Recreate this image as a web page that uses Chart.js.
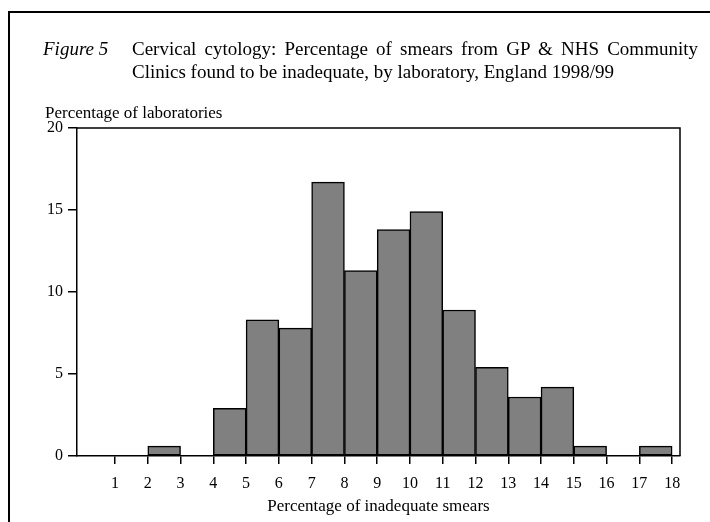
<!DOCTYPE html>
<html>
<head>
<meta charset="utf-8">
<script src="https://cdn.jsdelivr.net/npm/chart.js@4.4.0/dist/chart.umd.min.js"></script>
<style>
  html, body { margin: 0; padding: 0; background: #fff; }
  body { width: 710px; height: 522px; overflow: hidden; position: relative;
         font-family: "Liberation Serif", "Times New Roman", serif; color: #000; }
  #frame { position: absolute; left: 8px; top: 11px; width: 760px; height: 560px;
           border-left: 2px solid #000; border-top: 2px solid #000; }
  #figno { position: absolute; left: 43px; top: 37px; font-size: 19px; line-height: 23px; font-style: italic; }
  #title { position: absolute; left: 132px; top: 37px; width: 566px; font-size: 19px; line-height: 23px;
           text-align: justify; }
  #ytitle { position: absolute; left: 45px; top: 103px; font-size: 17px; line-height: 20px; }
  #chart { position: absolute; left: 0; top: 0; }
</style>
</head>
<body>
<div id="frame"></div>
<canvas id="chart" width="710" height="522"></canvas>
<div id="figno">Figure 5</div>
<div id="title">Cervical cytology: Percentage of smears from GP &amp; NHS Community Clinics found to be inadequate, by laboratory, England 1998/99</div>
<div id="ytitle">Percentage of laboratories</div>
<script>
// histogram bins: lower edge of each bin (% inadequate smears) and % of laboratories
var binStart = [2, 4, 5, 6, 7, 8, 9, 10, 11, 12, 13, 14, 15, 17];
var labPct = [0.6, 2.9, 8.3, 7.8, 16.7, 11.3, 13.8, 14.9, 8.9, 5.4, 3.6, 4.2, 0.6, 0.6];
var xTicks = [1, 2, 3, 4, 5, 6, 7, 8, 9, 10, 11, 12, 13, 14, 15, 16, 17, 18];
var yTicks = [0, 5, 10, 15, 20];

var serif = "'Liberation Serif', 'Times New Roman', serif";

// top and right sides of the plot box
var boxPlugin = {
    id: "box",
    afterDraw: function (chart) {
        var a = chart.chartArea, c = chart.ctx;
        c.save();
        c.strokeStyle = "#000";
        c.lineWidth = 1.5;
        c.beginPath();
        c.moveTo(a.left, a.top);
        c.lineTo(a.right, a.top);
        c.lineTo(a.right, a.bottom);
        c.stroke();
        c.restore();
    }
};

var ctx = document.getElementById("chart").getContext("2d");
var myChart = new Chart(ctx, {
    type: "bar",
    data: {
        datasets: [{
            data: binStart.map(function (s, i) { return { x: s + 0.5, y: labPct[i] }; }),
            backgroundColor: "#808080",
            borderColor: "#000",
            borderWidth: 1.5,
            borderSkipped: false,
            barPercentage: 1,
            categoryPercentage: 1,
        }],
    },
    options: {
        responsive: false,
        animation: false,
        layout: { padding: { top: 128, right: 30, left: 0, bottom: 0 } },
        plugins: { legend: { display: false }, tooltip: { enabled: false } },
        scales: {
            x: {
                type: "linear",
                min: -0.16,
                max: 18.24,
                offset: false,
                afterBuildTicks: function (s) { s.ticks = xTicks.map(function (v) { return { value: v }; }); },
                afterFit: function (s) { s.height = 66; },
                grid: { offset: false, drawOnChartArea: false, tickLength: 8, color: "#000", lineWidth: 1.5 },
                border: { color: "#000", width: 1.5 },
                ticks: { font: { family: serif, size: 16 }, color: "#000", padding: 10, maxRotation: 0, autoSkip: false },
                title: {
                    display: true,
                    text: "Percentage of inadequate smears",
                    font: { family: serif, size: 17 },
                    color: "#000",
                    padding: { top: 0, bottom: 5 },
                },
            },
            y: {
                min: 0,
                max: 20,
                afterBuildTicks: function (s) { s.ticks = yTicks.map(function (v) { return { value: v }; }); },
                afterFit: function (s) { s.width = 77; },
                grid: { drawOnChartArea: false, tickLength: 9, color: "#000", lineWidth: 1.5 },
                border: { color: "#000", width: 1.5 },
                ticks: { font: { family: serif, size: 16 }, color: "#000", padding: 5 },
            },
        },
    },
    plugins: [boxPlugin],
});
</script>
</body>
</html>
